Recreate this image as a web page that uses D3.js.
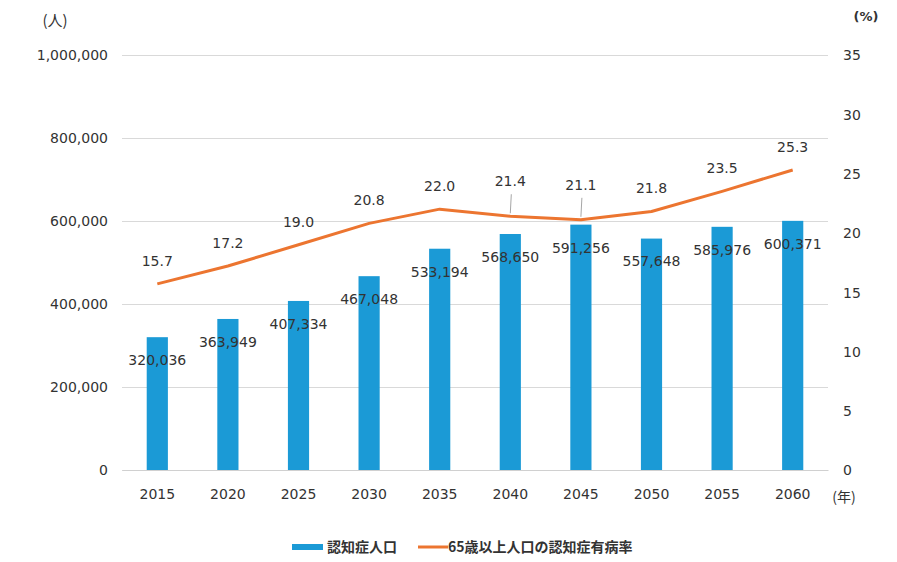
<!DOCTYPE html>
<html><head><meta charset="utf-8">
<script src="https://cdn.jsdelivr.net/npm/d3@7"></script>
<style>
body{margin:0;background:#fff;}
text{font-family:"DejaVu Sans",Verdana,sans-serif;}
</style></head>
<body>
<svg id="chart" width="897" height="562"></svg>
<script>
const years = ["2015","2020","2025","2030","2035","2040","2045","2050","2055","2060"];
const patients = [320036,363949,407334,467048,533194,568650,591256,557648,585976,600371];
const rates = [15.7,17.2,19.0,20.8,22.0,21.4,21.1,21.8,23.5,25.3];
const leftTicks = [0,200000,400000,600000,800000,1000000];
const rightTicks = [0,5,10,15,20,25,30,35];
const seriesNames = ["認知症人口","65歳以上人口の認知症有病率"];

const svg = d3.select("#chart");
const textColor = "#333333";
const barColor = "#1b9ad6";
const lineColor = "#ec7530";
const plot = {left:122, right:828, top:55, bottom:470};

const x = d3.scaleBand().domain(years).range([plot.left, plot.right]).paddingInner(0.7).paddingOuter(0.35);
const xc = d => x(d) + x.bandwidth()/2;
const yL = d3.scaleLinear().domain([0,1000000]).range([plot.bottom, plot.top]);
const yR = d3.scaleLinear().domain([0,35]).range([plot.bottom, plot.top]);
const fmt = d3.format(",");

// gridlines
const gAxisL = svg.append("g").attr("transform",`translate(${plot.left},0)`)
  .call(d3.axisLeft(yL).tickValues(leftTicks).tickFormat(fmt).tickSize(-(plot.right-plot.left)).tickPadding(14));
gAxisL.select(".domain").remove();
gAxisL.selectAll(".tick line").attr("stroke","#d9d9d9").attr("stroke-width",1);
gAxisL.selectAll(".tick text").attr("fill",textColor).style("font-size","14px").attr("dy","0.35em");

const gAxisR = svg.append("g").attr("transform",`translate(${plot.right},0)`)
  .call(d3.axisRight(yR).tickValues(rightTicks).tickSize(0).tickPadding(15));
gAxisR.select(".domain").remove();
gAxisR.selectAll(".tick text").attr("fill",textColor).style("font-size","14px").attr("dy","0.35em");

const gAxisX = svg.append("g").attr("transform",`translate(0,${plot.bottom})`)
  .call(d3.axisBottom(x).tickSize(0).tickPadding(19));
gAxisX.select(".domain").attr("stroke","#d0d0d0");
gAxisX.selectAll(".tick text").attr("fill",textColor).style("font-size","14px");

// bars
svg.append("g").selectAll("rect").data(years).join("rect")
  .attr("x", d => x(d)).attr("width", x.bandwidth())
  .attr("y", (d,i) => yL(patients[i])).attr("height", (d,i) => plot.bottom - yL(patients[i]))
  .attr("fill", barColor);

// bar labels
svg.append("g").selectAll("text").data(years).join("text")
  .attr("x", d => xc(d)).attr("y", (d,i) => yL(patients[i]) + 23)
  .attr("dy","0.35em").attr("text-anchor","middle")
  .attr("fill",textColor).style("font-size","14px")
  .text((d,i) => fmt(patients[i]));

// line
const line = d3.line().x(d => xc(d[0])).y(d => yR(d[1]));
svg.append("path").datum(years.map((y,i)=>[y,rates[i]]))
  .attr("d", line).attr("fill","none").attr("stroke",lineColor).attr("stroke-width",3).attr("stroke-linejoin","round");

// line labels
const offsets = rates.map((r,i) => (i===5||i===6) ? 35 : 23);
svg.append("g").selectAll("line").data([5,6]).join("line")
  .attr("x1", i => xc(years[i])).attr("x2", i => xc(years[i]) + 1)
  .attr("y1", i => yR(rates[i]) - 3).attr("y2", i => yR(rates[i]) - offsets[i] + 13)
  .attr("stroke","#a6a6a6").attr("stroke-width",1);
svg.append("g").selectAll("text").data(years).join("text")
  .attr("x", d => xc(d)).attr("y", (d,i) => yR(rates[i]) - offsets[i])
  .attr("dy","0.35em").attr("text-anchor","middle")
  .attr("fill",textColor).style("font-size","14px")
  .text((d,i) => rates[i].toFixed(1));

// unit labels
svg.append("text").attr("x",55).attr("y",21).attr("dy","0.35em").attr("text-anchor","middle")
  .attr("fill",textColor).style("font-size","15px").style("font-family","'Noto Sans CJK JP',sans-serif").text("(人)");
svg.append("text").attr("x",866).attr("y",16).attr("dy","0.35em").attr("text-anchor","middle")
  .attr("fill",textColor).style("font-size","13px").style("font-weight","bold").text("(%)");
svg.append("text").attr("x",844).attr("y",497).attr("dy","0.35em").attr("text-anchor","middle")
  .attr("fill",textColor).style("font-size","14px").style("font-family","'Noto Sans CJK JP',sans-serif").text("(年)");

// legend
const lg = svg.append("g").attr("transform","translate(0,547)");
lg.append("line").attr("x1",292).attr("x2",323).attr("y1",0).attr("y2",0).attr("stroke",barColor).attr("stroke-width",6);
lg.append("text").attr("x",327).attr("y",0).attr("dy","0.35em").attr("fill",textColor)
  .style("font-size","14px").style("font-weight","bold").style("font-family","'Noto Sans CJK JP',sans-serif").text(seriesNames[0]);
lg.append("line").attr("x1",418).attr("x2",448).attr("y1",0).attr("y2",0).attr("stroke",lineColor).attr("stroke-width",3);
lg.append("text").attr("x",448).attr("y",0).attr("dy","0.35em").attr("fill",textColor)
  .style("font-size","14px").style("font-weight","bold").style("font-family","'Noto Sans CJK JP',sans-serif").text(seriesNames[1]);
</script>
</body></html>
